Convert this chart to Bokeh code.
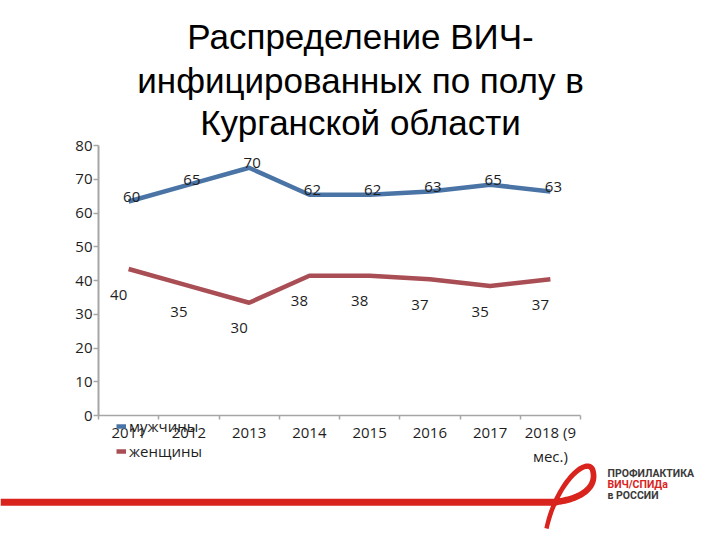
import numpy as np
from bokeh.plotting import figure
from bokeh.models import (ColumnDataSource, Range1d, FixedTicker, Legend, LegendItem,
                          Label, BoxAnnotation, PolyAnnotation)
from bokeh.transform import dodge
from bokeh.core.properties import value
from bokeh.embed import file_html
from bokeh.resources import INLINE

# ---- data ----
years = ["2011", "2012", "2013", "2014", "2015", "2016", "2017", "2018 (9\nмес.)"]
men = [60, 65, 70, 62, 62, 63, 65, 63]
women = [40, 35, 30, 38, 38, 37, 35, 37]
y_ticks = [0, 10, 20, 30, 40, 50, 60, 70, 80]
series_names = ["мужчины", "женщины"]
title_lines = ["Распределение ВИЧ-", "инфицированных по полу в", "Курганской области"]
logo_lines = ["ПРОФИЛАКТИКА", "ВИЧ/СПИДа", "в РОССИИ"]

MEN_COLOR = "#4b74a6"
WOMEN_COLOR = "#a94e54"
RIBBON = "#d9231d"
TXT = "#1e1e1e"
AXIS = "#a6a6a6"
FONT_NAME = "Open Sans"
FONT = value(FONT_NAME)

W, H = 720, 540
# plot area (axes box) in canvas pixels; the frame itself spans the whole canvas
AL, AR, AT, AB = 98, 580, 145, 415
YMAX = 80
n = len(years)
xpx = (AR - AL) / n
ypx = (AB - AT) / YMAX
x_range = Range1d(-AL / xpx, n + (W - AR) / xpx)
y_range = Range1d(-(H - AB) / ypx, YMAX + AT / ypx)


def sy(cy):  # canvas y from top -> screen units from frame bottom
    return H - cy


pos = [i + 0.5 for i in range(n)]
src = ColumnDataSource(dict(
    x=pos, men=men, women=women,
    men_lbl=[str(v) for v in men], women_lbl=[str(v) for v in women],
))

p = figure(width=W, height=H, x_range=x_range, y_range=y_range,
           toolbar_location=None, output_backend="svg", min_border=0,
           outline_line_color=None)
p.grid.visible = False

DEPTH = 3.4  # 3-D perspective shift of the drawn line
r_m = p.line(x="x", y=dodge("men", DEPTH), source=src, line_width=4.5, line_color=MEN_COLOR)
r_w = p.line(x="x", y=dodge("women", DEPTH), source=src, line_width=4.5, line_color=WOMEN_COLOR)

p.text(x="x", y=dodge("men", 4.8), text="men_lbl", source=src, x_offset=3,
       text_align="center", text_baseline="middle", text_font=FONT,
       text_font_size="15px", text_color=TXT)
p.text(x="x", y=dodge("women", -4.2), text="women_lbl", source=src, x_offset=-10,
       text_align="center", text_baseline="middle", text_font=FONT,
       text_font_size="15px", text_color=TXT)

# axes, pinned at the data origin
xa = p.xaxis[0]
xa.fixed_location = 0
xa.bounds = (0, n)
xa.ticker = FixedTicker(ticks=pos, minor_ticks=list(range(n + 1)))
xa.major_label_overrides = {pos[i]: years[i] for i in range(n)}
xa.major_tick_line_color = None
xa.major_tick_out = 4
xa.major_tick_in = 0
xa.minor_tick_line_color = AXIS
xa.minor_tick_out = 4
xa.minor_tick_in = 0
xa.minor_tick_line_width = 1.5
xa.axis_line_color = AXIS
xa.axis_line_width = 1.5
xa.major_label_standoff = 2
xa.major_label_text_font = FONT_NAME
xa.major_label_text_font_size = "15px"
xa.major_label_text_color = TXT

ya = p.yaxis[0]
ya.fixed_location = 0
ya.bounds = (0, YMAX)
ya.ticker = FixedTicker(ticks=y_ticks)
ya.major_tick_out = 5
ya.major_tick_in = 0
ya.major_tick_line_color = AXIS
ya.major_tick_line_width = 1.5
ya.minor_tick_line_color = None
ya.axis_line_color = AXIS
ya.axis_line_width = 2
ya.major_label_standoff = 1
ya.major_label_text_font = FONT_NAME
ya.major_label_text_font_size = "15px"
ya.major_label_text_color = TXT

legend = Legend(items=[LegendItem(label=series_names[0], renderers=[r_m]),
                       LegendItem(label=series_names[1], renderers=[r_w])],
                location=(116, sy(461)), orientation="vertical",
                border_line_color=None, background_fill_alpha=0,
                padding=0, margin=0, spacing=5,
                glyph_width=10, glyph_height=20, label_height=20, label_standoff=3,
                label_text_font=FONT_NAME, label_text_font_size="15px", label_text_color=TXT)
p.add_layout(legend)

# ---- title ----
for line, base in zip(title_lines, [36, 80, 122]):
    p.add_layout(Label(x=360, y=sy(base), x_units="screen", y_units="screen",
                       text=line, text_align="center", text_baseline="alphabetic",
                       text_font="Liberation Sans", text_font_size="35px",
                       text_color="black"))

# ---- bottom decoration (red ribbon + logo) ----
p.add_layout(BoxAnnotation(left=0, right=556, top=sy(498.3), bottom=sy(505.3),
                           left_units="screen", right_units="screen",
                           top_units="screen", bottom_units="screen",
                           fill_color=RIBBON, fill_alpha=1, line_color=None))


def bez(p0, c0, c1, p1, k=40):
    t = np.linspace(0, 1, k)[:, None]
    p0, c0, c1, p1 = map(np.array, (p0, c0, c1, p1))
    return ((1 - t) ** 3) * p0 + 3 * ((1 - t) ** 2) * t * c0 + 3 * (1 - t) * t ** 2 * c1 + t ** 3 * p1


path = np.vstack([bez((550, 502), (578, 500), (598, 488), (592, 469)),
                  bez((592, 469), (586, 456), (556, 482), (546, 528))[1:]])
d = np.gradient(path, axis=0)
nrm = np.stack([-d[:, 1], d[:, 0]], axis=1)
nrm /= np.linalg.norm(nrm, axis=1, keepdims=True)
half = np.linspace(3.4, 2.2, len(path))[:, None]
poly = np.vstack([path + nrm * half, (path - nrm * half)[::-1]])
p.add_layout(PolyAnnotation(xs=list(poly[:, 0]), ys=[sy(v) for v in poly[:, 1]],
                            xs_units="screen", ys_units="screen",
                            fill_color=RIBBON, fill_alpha=1, line_color=None))

for line, cy, col in zip(logo_lines, [473, 483.5, 494.5], ["#3a3a3a", RIBBON, "#3a3a3a"]):
    p.add_layout(Label(x=607, y=sy(cy), x_units="screen", y_units="screen",
                       text=line, text_align="left", text_baseline="middle",
                       text_font="Roboto", text_font_style="bold",
                       text_font_size="10.5px", text_color=col))

open("out.html", "w").write(file_html(p, INLINE))
